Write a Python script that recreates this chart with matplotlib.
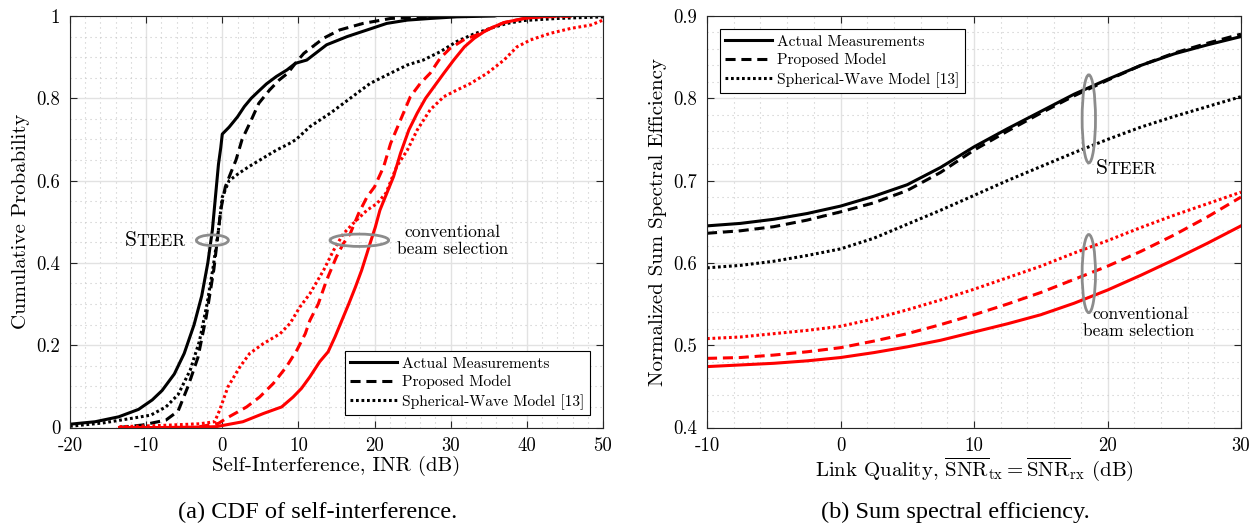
import numpy as np
import matplotlib
matplotlib.use('Agg')
import matplotlib.pyplot as plt
from matplotlib.patches import Ellipse
from matplotlib.lines import Line2D
from matplotlib.ticker import MultipleLocator
from matplotlib.offsetbox import TextArea, HPacker, AnnotationBbox

plt.rcParams['font.family'] = 'cmr10'
plt.rcParams['mathtext.fontset'] = 'cm'
plt.rcParams['axes.unicode_minus'] = False
plt.rcParams['axes.formatter.use_mathtext'] = True

# ---- (a) CDF of self-interference, INR (dB) vs cumulative probability ----
# STEER
steer_meas_x = [-20, -16.7, -13.6, -11.0, -9.2, -7.9, -6.3, -5.0, -3.7, -2.7, -1.9, -1.3, -0.9,
                -0.5, -0.2, 0.0, 0.9, 2.0, 2.9, 3.8, 4.7, 5.8, 7.1, 8.5, 9.6, 11.1, 13.7, 16.4,
                19.0, 21.6, 24.3, 27.3, 30.8, 35.7]
steer_meas_y = [0.008, 0.014, 0.026, 0.044, 0.067, 0.09, 0.13, 0.18, 0.25, 0.32, 0.40, 0.48, 0.56,
                0.64, 0.68, 0.713, 0.73, 0.755, 0.78, 0.80, 0.816, 0.835, 0.853, 0.869, 0.885, 0.893,
                0.93, 0.95, 0.966, 0.982, 0.99, 0.994, 0.998, 1.0]

steer_prop_x = [-13.6, -10.5, -7.4, -5.8, -4.5, -3.2, -2.1, -1.1, -0.5, -0.2, 0.4, 1.1, 1.8, 2.6,
                3.8, 4.8, 6.2, 7.5, 8.6, 9.6, 10.7, 13.3, 15.4, 18.5, 22.1, 26.4, 28.6]
steer_prop_y = [0.0, 0.006, 0.018, 0.04, 0.10, 0.17, 0.27, 0.385, 0.48, 0.529, 0.585, 0.618, 0.65,
                0.70, 0.747, 0.788, 0.82, 0.845, 0.861, 0.885, 0.909, 0.946, 0.966, 0.982, 0.994,
                0.998, 1.0]

steer_sph_x = [-20, -15.7, -12.0, -9.4, -7.4, -5.8, -4.2, -3.0, -2.0, -1.2, -0.5, 0.0, 0.9, 2.2,
               3.5, 5.3, 7.1, 8.8, 9.7, 11.5, 14.2, 16.8, 19.4, 22.1, 24.3, 26.4, 28.6, 30.8, 33.0,
               35.2, 37.4, 39.6, 44.0, 50.0]
steer_sph_y = [0.003, 0.011, 0.022, 0.03, 0.05, 0.08, 0.14, 0.21, 0.30, 0.39, 0.48, 0.56, 0.60,
               0.618, 0.634, 0.654, 0.674, 0.69, 0.70, 0.731, 0.764, 0.80, 0.836, 0.861, 0.881,
               0.893, 0.913, 0.938, 0.956, 0.97, 0.982, 0.989, 0.994, 0.998]

# conventional beam selection
conv_meas_x = [-13.5, -8.0, -3.0, -0.8, 2.7, 5.4, 7.8, 9.3, 10.4, 11.5, 12.8, 13.9, 14.8, 15.7,
               16.6, 17.5, 18.3, 19.0, 19.4, 20.1, 20.7, 21.4, 22.5, 23.4, 24.5, 25.6, 26.7, 27.8,
               29.1, 30.4, 31.8, 33.1, 34.4, 35.7, 37.0, 39.6, 43.1, 45.3]
conv_meas_y = [0.0, 0.0, 0.001, 0.002, 0.014, 0.034, 0.05, 0.074, 0.095, 0.123, 0.16, 0.184, 0.22,
               0.26, 0.30, 0.342, 0.382, 0.423, 0.447, 0.487, 0.528, 0.56, 0.61, 0.666, 0.723,
               0.764, 0.80, 0.828, 0.861, 0.893, 0.925, 0.946, 0.962, 0.974, 0.984, 0.994, 1.0, 1.0]

conv_prop_x = [-3.0, -0.5, 0.5, 3.2, 4.9, 6.7, 8.4, 9.8, 10.9, 11.5, 12.6, 13.7, 15.0, 15.9, 16.8,
               17.9, 19.0, 20.0, 21.2, 22.1, 23.4, 24.7, 26.0, 27.3, 28.6, 29.9, 31.7, 33.4, 35.2,
               37.0, 40.5, 46.6]
conv_prop_y = [0.002, 0.01, 0.022, 0.05, 0.074, 0.107, 0.147, 0.188, 0.228, 0.26, 0.30, 0.358,
               0.415, 0.447, 0.471, 0.52, 0.56, 0.585, 0.634, 0.69, 0.747, 0.804, 0.836, 0.861,
               0.897, 0.921, 0.942, 0.954, 0.97, 0.984, 0.997, 1.0]

conv_sph_x = [-13.5, -8.0, -3.0, -1.0, -0.35, 0.75, 2.3, 3.6, 5.4, 7.6, 8.9, 10.2, 11.5, 13.3,
              14.6, 15.9, 17.2, 19.0, 20.3, 21.5, 22.9, 24.3, 25.6, 27.3, 29.1, 30.8, 32.6, 34.8,
              37.0, 38.7, 40.5, 43.1, 45.8, 48.4, 50.0]
conv_sph_y = [0.002, 0.005, 0.009, 0.014, 0.042, 0.099, 0.147, 0.18, 0.204, 0.228, 0.253, 0.293,
              0.325, 0.382, 0.43, 0.471, 0.496, 0.528, 0.544, 0.57, 0.634, 0.674, 0.723, 0.772,
              0.804, 0.82, 0.836, 0.861, 0.893, 0.925, 0.942, 0.958, 0.97, 0.978, 0.99]

# ---- (b) normalized sum spectral efficiency vs link quality (dB) ----
snr_db = [-10, -7.5, -5, -2.5, 0, 2.5, 5, 7.5, 10, 12.5, 15, 17.5, 20, 22.5, 25, 27.5, 30]
se_steer_meas = [0.645, 0.648, 0.653, 0.660, 0.669, 0.681, 0.695, 0.716, 0.741, 0.763, 0.784,
                 0.805, 0.823, 0.840, 0.854, 0.865, 0.875]
se_steer_prop = [0.636, 0.639, 0.644, 0.652, 0.662, 0.673, 0.688, 0.710, 0.737, 0.760, 0.782,
                 0.803, 0.822, 0.840, 0.855, 0.867, 0.878]
se_steer_sph = [0.594, 0.597, 0.602, 0.609, 0.617, 0.630, 0.647, 0.664, 0.682, 0.700, 0.717,
                0.734, 0.750, 0.765, 0.778, 0.790, 0.802]
se_conv_meas = [0.474, 0.476, 0.478, 0.481, 0.485, 0.491, 0.498, 0.506, 0.516, 0.526, 0.537,
                0.551, 0.567, 0.585, 0.604, 0.624, 0.645]
se_conv_prop = [0.484, 0.485, 0.488, 0.492, 0.497, 0.505, 0.514, 0.525, 0.537, 0.550, 0.564,
                0.580, 0.596, 0.614, 0.634, 0.656, 0.680]
se_conv_sph = [0.508, 0.510, 0.514, 0.518, 0.523, 0.532, 0.543, 0.555, 0.568, 0.582, 0.596,
               0.612, 0.627, 0.643, 0.658, 0.672, 0.686]

legend_labels = ['Actual Measurements', 'Proposed Model', 'Spherical-Wave Model [13]']
cdf_xticks = [-20, -10, 0, 10, 20, 30, 40, 50]
cdf_yticks = [0, 0.2, 0.4, 0.6, 0.8, 1]
cdf_yticklabels = ['0', '0.2', '0.4', '0.6', '0.8', '1']
se_xticks = [-10, 0, 10, 20, 30]
se_yticks = [0.4, 0.5, 0.6, 0.7, 0.8, 0.9]

LW = 2.2
DASH = (0, (3.3, 1.9))
DOT = (0, (0.9, 0.9))
RED = '#ff0000'
GRAY = '#8c8c8c'

W, H = 1257, 527
fig = plt.figure(figsize=(W / 100, H / 100), dpi=100)
ax1 = fig.add_axes([70 / W, 1 - 427.5 / H, 533 / W, 411.5 / H])
ax2 = fig.add_axes([707 / W, 1 - 427.5 / H, 534 / W, 411.5 / H])


def style(ax, xminor, yminor):
    ax.xaxis.set_minor_locator(MultipleLocator(xminor))
    ax.yaxis.set_minor_locator(MultipleLocator(yminor))
    ax.grid(which='major', color='#e2e2e2', lw=1.0, ls='-')
    ax.grid(which='minor', color='#c8c8c8', lw=0.8, ls=(0, (1, 3.5)))
    ax.set_axisbelow(True)
    ax.tick_params(which='major', direction='in', length=5, top=True, right=True,
                   labelsize=13.5, pad=7, color='#262626')
    ax.tick_params(which='minor', length=0)
    for s in ax.spines.values():
        s.set_color('#262626')
        s.set_linewidth(0.8)


def steer_label(ax, x, y):
    box = HPacker(children=[TextArea('S', textprops=dict(size=15.5)),
                            TextArea('TEER', textprops=dict(size=12.5))],
                  align='baseline', pad=0, sep=0)
    ab = AnnotationBbox(box, (x, y), xycoords='data', frameon=False, box_alignment=(0, 0.5))
    ax.add_artist(ab)


# (a)
ax1.plot(steer_meas_x, steer_meas_y, color='k', lw=LW, ls='-')
ax1.plot(steer_prop_x, steer_prop_y, color='k', lw=LW, ls=DASH)
ax1.plot(steer_sph_x, steer_sph_y, color='k', lw=LW, ls=DOT)
ax1.plot(conv_meas_x, conv_meas_y, color=RED, lw=LW, ls='-')
ax1.plot(conv_prop_x, conv_prop_y, color=RED, lw=LW, ls=DASH)
ax1.plot(conv_sph_x, conv_sph_y, color=RED, lw=LW, ls=DOT)
ax1.set_xlim(-20, 50)
ax1.set_ylim(0, 1)
ax1.set_xticks(cdf_xticks)
ax1.set_xticklabels([str(t) for t in cdf_xticks])
ax1.set_yticks(cdf_yticks)
ax1.set_yticklabels(cdf_yticklabels)
style(ax1, 2, 0.05)
ax1.add_patch(Ellipse((-1.3, 0.455), 4.2, 0.026, fill=False, ec=GRAY, lw=2, zorder=5))
ax1.add_patch(Ellipse((18.0, 0.455), 7.7, 0.03, fill=False, ec=GRAY, lw=2, zorder=5))
steer_label(ax1, -12.8, 0.455)
ax1.text(30.2, 0.475, 'conventional', ha='center', va='center', fontsize=12.5)
ax1.text(30.2, 0.434, 'beam selection', ha='center', va='center', fontsize=12.5)
ax1.set_xlabel('Self-Interference, INR (dB)', fontsize=15)
ax1.xaxis.set_label_coords(0.5, -0.068)
ax1.set_ylabel('Cumulative Probability', fontsize=15)
ax1.yaxis.set_label_coords(-0.075, 0.5)

# (b)
ax2.plot(snr_db, se_steer_meas, color='k', lw=LW, ls='-')
ax2.plot(snr_db, se_steer_prop, color='k', lw=LW, ls=DASH)
ax2.plot(snr_db, se_steer_sph, color='k', lw=LW, ls=DOT)
ax2.plot(snr_db, se_conv_meas, color=RED, lw=LW, ls='-')
ax2.plot(snr_db, se_conv_prop, color=RED, lw=LW, ls=DASH)
ax2.plot(snr_db, se_conv_sph, color=RED, lw=LW, ls=DOT)
ax2.set_xlim(-10, 30)
ax2.set_ylim(0.4, 0.9)
ax2.set_xticks(se_xticks)
ax2.set_xticklabels([str(t) for t in se_xticks])
ax2.set_yticks(se_yticks)
ax2.set_yticklabels([f'{t:.1f}' for t in se_yticks])
style(ax2, 2, 0.02)
ax2.add_patch(Ellipse((18.6, 0.775), 1.0, 0.107, fill=False, ec=GRAY, lw=2, zorder=5))
ax2.add_patch(Ellipse((18.6, 0.587), 1.0, 0.095, fill=False, ec=GRAY, lw=2, zorder=5))
steer_label(ax2, 19.1, 0.715)
ax2.text(22.5, 0.537, 'conventional', ha='center', va='center', fontsize=12.5)
ax2.text(22.3, 0.517, 'beam selection', ha='center', va='center', fontsize=12.5)
ax2.set_xlabel(r'Link Quality, $\overline{\mathrm{SNR}}_{\mathrm{tx}} = '
               r'\overline{\mathrm{SNR}}_{\mathrm{rx}}$ (dB)', fontsize=15)
ax2.xaxis.set_label_coords(0.5, -0.068)
ax2.set_ylabel('Normalized Sum Spectral Efficiency', fontsize=15)
ax2.yaxis.set_label_coords(-0.075, 0.5)

handles = [Line2D([], [], color='k', lw=LW, ls='-'),
           Line2D([], [], color='k', lw=LW, ls=DASH),
           Line2D([], [], color='k', lw=LW, ls=DOT)]
legend_kw = dict(fontsize=11.2, frameon=True, fancybox=False, edgecolor='k', framealpha=1,
                 handlelength=3.0, handletextpad=0.35, labelspacing=0.3, borderpad=0.35,
                 borderaxespad=0)
lg1 = ax1.legend(handles, legend_labels, loc='lower right', bbox_to_anchor=(0.976, 0.030),
                 **legend_kw)
lg1.get_frame().set_linewidth(0.8)
lg2 = ax2.legend(handles, legend_labels, loc='upper left', bbox_to_anchor=(0.024, 0.968),
                 **legend_kw)
lg2.get_frame().set_linewidth(0.8)

fig.text(318 / W, 1 - 512 / H, '(a) CDF of self-interference.', ha='center', va='center',
         fontsize=17.6, family='Liberation Serif')
fig.text(955 / W, 1 - 512 / H, '(b) Sum spectral efficiency.', ha='center', va='center',
         fontsize=17.6, family='Liberation Serif')

fig.savefig('out.png', dpi=100)
